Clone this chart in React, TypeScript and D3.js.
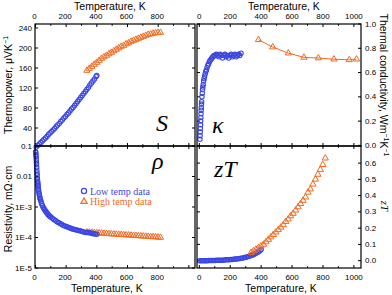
import * as d3 from 'd3'

// ---- data ----
const sLowT = [5, 15, 25, 35, 45, 55, 65, 75, 85, 95, 105, 115, 125, 135, 145, 155, 165, 175, 185, 195, 205, 215, 225, 235, 245, 255, 265, 275, 285, 295, 305, 315, 325, 335, 345, 355, 365, 375, 385, 395, 400]
const sLow = [2, 5, 8, 11, 14, 17, 20, 23, 27, 30, 33, 36, 39, 43, 46, 49, 53, 56, 60, 63, 67, 70, 74, 78, 81, 85, 89, 93, 97, 101, 105, 109, 113, 117, 121, 126, 130, 134, 138, 143, 145]

const highT = [335, 351, 367, 383, 399, 415, 431, 447, 463, 479, 495, 511, 527, 543, 559, 575, 591, 607, 623, 639, 655, 671, 687, 703, 719, 735, 751, 767, 783, 799, 815]
const sHigh = [155, 159, 163, 167, 171, 175, 179, 182, 185, 188, 191, 194, 197, 200, 203, 205, 208, 210, 213, 215, 217, 219, 221, 223, 225, 227, 228, 229, 230, 231, 231]

const kLowT = [4, 5, 6, 7, 8, 9, 10, 11, 12, 13, 14, 15, 17, 19, 21, 23, 25, 28, 31, 34, 38, 42, 46, 50, 55, 60, 65, 70, 76, 82, 88, 95, 102, 110, 118, 126, 134, 142, 150, 158, 166, 174, 182, 190, 198, 206, 214, 222, 230, 238, 246, 254, 262, 270]
const kLow = [0.05, 0.08, 0.11, 0.14, 0.17, 0.2, 0.23, 0.26, 0.29, 0.31, 0.34, 0.36, 0.4, 0.43, 0.46, 0.48, 0.5, 0.53, 0.55, 0.57, 0.59, 0.61, 0.62, 0.64, 0.66, 0.67, 0.69, 0.7, 0.71, 0.72, 0.73, 0.74, 0.74, 0.75, 0.74, 0.73, 0.75, 0.74, 0.72, 0.74, 0.75, 0.73, 0.74, 0.72, 0.74, 0.75, 0.73, 0.74, 0.75, 0.73, 0.74, 0.75, 0.74, 0.76]
const kHighT = [383, 475, 576, 677, 770, 871, 970, 1017]
const kHigh = [0.87, 0.81, 0.76, 0.725, 0.72, 0.71, 0.705, 0.71]

const rLowT = [1, 2, 3, 4, 5, 6, 7, 8, 9, 10, 11, 12, 13, 14, 15, 16, 17, 18, 19, 20, 22, 24, 26, 28, 30, 33, 36, 40, 45, 50, 55, 60, 65, 70, 75, 80, 85, 90, 95, 100, 110, 120, 130, 140, 150, 160, 170, 180, 190, 200, 210, 220, 230, 240, 250, 260, 270, 280, 290, 300, 310, 320, 330, 340, 350, 360, 370, 380, 390, 400]
const rLow = [0.065, 0.06, 0.052, 0.045, 0.037, 0.03, 0.025, 0.02, 0.016, 0.013, 0.011, 0.009, 0.0078, 0.0069, 0.0062, 0.0056, 0.005, 0.0045, 0.0039, 0.0036, 0.0031, 0.0027, 0.0024, 0.0021, 0.0019, 0.0017, 0.00152, 0.0013, 0.00112, 0.00099, 0.00089, 0.00081, 0.00074, 0.00068, 0.00063, 0.00059, 0.00055, 0.00052, 0.00049, 0.00047, 0.00043, 0.00039, 0.00036, 0.00033, 0.00031, 0.00029, 0.00027, 0.00025, 0.00024, 0.00023, 0.00022, 0.00021, 0.0002, 0.00019, 0.000185, 0.00018, 0.000175, 0.00017, 0.000165, 0.00016, 0.000155, 0.00015, 0.000147, 0.000145, 0.000142, 0.00014, 0.000136, 0.000133, 0.00013, 0.000128]
const rHigh = [1.5e-4, 1.48e-4, 1.46e-4, 1.44e-4, 1.42e-4, 1.4e-4, 1.38e-4, 1.36e-4, 1.34e-4, 1.32e-4, 1.3e-4, 1.29e-4, 1.27e-4, 1.25e-4, 1.24e-4, 1.22e-4, 1.21e-4, 1.19e-4, 1.18e-4, 1.16e-4, 1.15e-4, 1.13e-4, 1.12e-4, 1.1e-4, 1.09e-4, 1.08e-4, 1.06e-4, 1.05e-4, 1.04e-4, 1.02e-4, 1.0e-4]

const zLowT = [2, 12, 22, 32, 42, 52, 62, 72, 82, 92, 102, 112, 122, 132, 142, 152, 162, 172, 182, 192, 202, 212, 222, 232, 242, 252, 262, 272, 282, 292, 302, 312, 322, 332, 342, 352, 362, 372, 382, 392, 400]
const zLow = [0, 0, 0, 0, 0, 0, 0.001, 0.001, 0.001, 0.001, 0.001, 0.002, 0.002, 0.002, 0.003, 0.003, 0.004, 0.005, 0.005, 0.006, 0.007, 0.008, 0.009, 0.01, 0.011, 0.012, 0.014, 0.015, 0.017, 0.019, 0.021, 0.024, 0.027, 0.03, 0.034, 0.038, 0.043, 0.048, 0.054, 0.061, 0.068]
const zHigh = [0.05, 0.06, 0.07, 0.08, 0.09, 0.1, 0.115, 0.13, 0.145, 0.16, 0.175, 0.19, 0.205, 0.22, 0.24, 0.255, 0.275, 0.29, 0.31, 0.33, 0.35, 0.37, 0.39, 0.42, 0.44, 0.47, 0.5, 0.53, 0.56, 0.59, 0.63]

const xTicks = [0, 100, 200, 300, 400, 500, 600, 700, 800, 900, 1000]
const xLabelsL = [0, 200, 400, 600, 800]
const xLabelsR = [0, 200, 400, 600, 800, 1000]
const sTicks = [40, 80, 120, 160, 200, 240]
const kTicks = [0, 0.2, 0.4, 0.6, 0.8, 1.0]
const rTicks = [1e-5, 1e-4, 1e-3, 0.01, 0.1]
const rLabels = ['1E-5', '1E-4', '1E-3', '0.01', '0.1']
const zTicks = [0, 0.1, 0.2, 0.3, 0.4, 0.5, 0.6]

const blue = '#3a46e4'
const orange = '#f26a1f'
const font = 'Liberation Sans, Arial, sans-serif'
const serif = 'Liberation Serif, Times New Roman, serif'

const left = [35, 195]
const right = [197, 361]
const top = [24, 146]
const bottom = [146, 268]

export default function App() {
  const xL = d3.scaleLinear().domain([-3, 1040]).range(left)
  const xR = d3.scaleLinear().domain([-15, 1046]).range(right)
  const yS = d3.scaleLinear().domain([4, 248]).range([top[1], top[0]])
  const yK = d3.scaleLinear().domain([-0.005, 1.0]).range([top[1], top[0]])
  const yR = d3.scaleLog().domain([1e-5, 0.1]).range([bottom[1], bottom[0]])
  const yZ = d3.scaleLinear().domain([-0.045, 0.705]).range([bottom[1], bottom[0]])

  const tri = d3.symbol().type(d3.symbolTriangle).size(17)()

  const circles = (xs: number[], ys: number[], x: any, y: any, key: string) =>
    xs.map((t, i) => (
      <circle key={key + i} cx={x(t)} cy={y(ys[i])} r={2.2} fill="none" stroke={blue} strokeWidth={1.1} />
    ))
  const triangles = (xs: number[], ys: number[], x: any, y: any, key: string) =>
    xs.map((t, i) => (
      <path key={key + i} d={tri || ''} transform={`translate(${x(t)},${y(ys[i])})`} fill="none" stroke={orange} strokeWidth={1} />
    ))

  // inward ticks on all four sides of a frame
  const xTickMarks = (x: any, y0: number, y1: number, key: string) =>
    xTicks.map(t => {
      const len = t % 200 === 0 ? 3 : 1.8
      return (
        <g key={key + t}>
          <line x1={x(t)} x2={x(t)} y1={y0} y2={y0 + len} stroke="#000" />
          <line x1={x(t)} x2={x(t)} y1={y1} y2={y1 - len} stroke="#000" />
        </g>
      )
    })
  const yTickMarks = (vals: number[], y: any, x0: number, x1: number, key: string) =>
    vals.map(v => (
      <g key={key + v}>
        <line x1={x0} x2={x0 + 3} y1={y(v)} y2={y(v)} stroke="#000" />
        <line x1={x1} x2={x1 - 3} y1={y(v)} y2={y(v)} stroke="#000" />
      </g>
    ))

  const kLine = d3.line<number>().x((t, i) => xR(t)).y((t, i) => yK(kHigh[i]))

  return (
    <svg width={392} height={295} style={{ position: 'absolute', left: 0, top: 0, background: '#fff' }} fontFamily={font}>
      {/* axis titles */}
      <text x={110} y={10} fontSize={10.5} textAnchor="middle">Temperature, K</text>
      <text x={284} y={10} fontSize={10.5} textAnchor="middle">Temperature, K</text>
      <text x={107} y={292} fontSize={10.5} textAnchor="middle">Temperature, K</text>
      <text x={281} y={292} fontSize={10.5} textAnchor="middle">Temperature, K</text>
      <text transform="translate(12,85) rotate(-90)" fontSize={10.5} textAnchor="middle">
        Thermopower, μVK<tspan dy={-4} fontSize={7}>−1</tspan>
      </text>
      <text transform="translate(12,209) rotate(-90)" fontSize={10.5} textAnchor="middle">Resistivity, mΩ·cm</text>
      <text transform="translate(380,85) rotate(90)" fontSize={10.5} textAnchor="middle">
        Thermal conductivity, Wm<tspan dy={-4} fontSize={7}>−1</tspan><tspan dy={4}>K</tspan><tspan dy={-4} fontSize={7}>−1</tspan>
      </text>
      <text transform="translate(381,206) rotate(90)" fontSize={11} fontStyle="italic" fontFamily={serif} textAnchor="middle">zT</text>

      {/* x tick labels */}
      {xLabelsL.map(t => <text key={'tl' + t} x={xL(t) - 1} y={19} fontSize={8} textAnchor="middle">{t}</text>)}
      {xLabelsR.map(t => <text key={'tr' + t} x={xR(t)} y={19} fontSize={8} textAnchor="middle">{t}</text>)}
      {xLabelsL.map(t => <text key={'bl' + t} x={xL(t) - 1} y={280} fontSize={8} textAnchor="middle">{t}</text>)}
      {xLabelsR.map(t => <text key={'br' + t} x={xR(t)} y={280} fontSize={8} textAnchor="middle">{t}</text>)}

      {/* y tick labels */}
      {sTicks.map(v => <text key={'s' + v} x={32} y={yS(v)} fontSize={8} textAnchor="end" dominantBaseline="central">{v}</text>)}
      {rTicks.map((v, i) => <text key={'r' + v} x={32} y={yR(v)} fontSize={8} textAnchor="end" dominantBaseline="central">{rLabels[i]}</text>)}
      {kTicks.map(v => <text key={'k' + v} x={365} y={yK(v)} fontSize={8} dominantBaseline="central">{v.toFixed(1)}</text>)}
      {zTicks.map(v => <text key={'z' + v} x={365} y={yZ(v)} fontSize={8} dominantBaseline="central">{v.toFixed(1)}</text>)}

      {/* ticks */}
      {xTickMarks(xL, top[0], top[1], 'xa')}
      {xTickMarks(xL, bottom[0], bottom[1], 'xb')}
      {xTickMarks(xR, top[0], top[1], 'xc')}
      {xTickMarks(xR, bottom[0], bottom[1], 'xd')}
      {yTickMarks(sTicks, yS, left[0], left[1], 'ya')}
      {yTickMarks(rTicks, yR, left[0], left[1], 'yb')}
      {yTickMarks(kTicks, yK, right[0], right[1], 'yc')}
      {yTickMarks(zTicks, yZ, right[0], right[1], 'yd')}

      {/* data */}
      {circles(sLowT, sLow, xL, yS, 'sl')}
      {triangles(highT, sHigh, xL, yS, 'sh')}
      <path d={kLine(kHighT) || ''} fill="none" stroke={orange} strokeWidth={1} />
      {circles(kLowT, kLow, xR, yK, 'kl')}
      {triangles(kHighT, kHigh, xR, yK, 'kh')}
      {triangles(highT, rHigh, xL, yR, 'rh')}
      {circles(rLowT, rLow, xL, yR, 'rl')}
      {circles(zLowT, zLow, xR, yZ, 'zl')}
      {triangles(highT, zHigh, xR, yZ, 'zh')}

      {/* panel letters */}
      <text x={156} y={131} fontSize={24} fontStyle="italic" fontFamily={serif}>S</text>
      <text x={212} y={133} fontSize={24} fontStyle="italic" fontFamily={serif}>κ</text>
      <text x={152} y={169} fontSize={24} fontStyle="italic" fontFamily={serif}>ρ</text>
      <text x={214} y={177} fontSize={24} fontStyle="italic" fontFamily={serif}>zT</text>

      {/* legend */}
      <circle cx={84} cy={191} r={2.6} fill="none" stroke={blue} strokeWidth={1.2} />
      <text x={90} y={194.5} fontSize={10} fontFamily={serif} fill={blue}>Low temp data</text>
      <path d={tri || ''} transform="translate(84,201.5)" fill="none" stroke={orange} strokeWidth={1.2} />
      <text x={90} y={205} fontSize={10} fontFamily={serif} fill={orange}>High temp data</text>

      {/* frames */}
      {[left, right].map((lx, i) =>
        [top, bottom].map((ty, j) => (
          <rect key={'f' + i + j} x={lx[0]} y={ty[0]} width={lx[1] - lx[0]} height={ty[1] - ty[0]} fill="none" stroke="#000" strokeWidth={1.2} />
        ))
      )}
    </svg>
  )
}
